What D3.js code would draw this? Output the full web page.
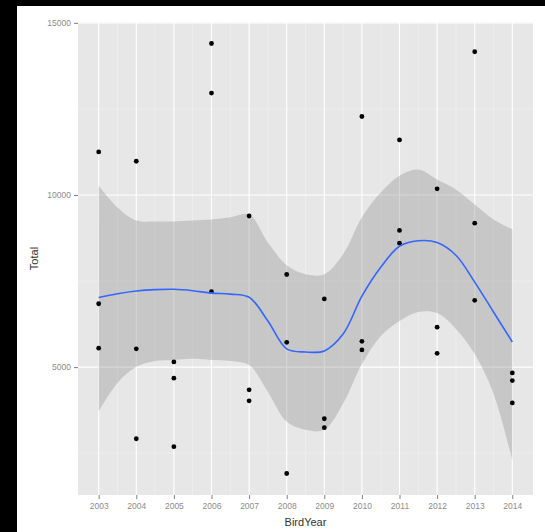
<!DOCTYPE html>
<html>
<head>
<meta charset="utf-8">
<script src="https://cdn.jsdelivr.net/npm/d3@7"></script>
<style>
  html, body { margin: 0; padding: 0; background: #fff; }
  svg { display: block; }
  text { font-family: "Liberation Sans", Arial, sans-serif; }
</style>
</head>
<body>
<svg id="chart" width="545" height="532"></svg>
<script>
// Observed totals per bird year
const years = [
  2003, 2003, 2003,
  2004, 2004, 2004,
  2005, 2005, 2005,
  2006, 2006, 2006,
  2007, 2007, 2007,
  2008, 2008, 2008,
  2009, 2009, 2009,
  2010, 2010, 2010,
  2011, 2011, 2011,
  2012, 2012, 2012,
  2013, 2013, 2013,
  2014, 2014, 2014
];
const totals = [
  11250, 6840, 5550,
  10980, 5530, 2920,
  5150, 4680, 2690,
  14400, 12960, 7190,
  9390, 4340, 4020,
  7690, 5720, 1910,
  6980, 3500, 3240,
  12280, 5750, 5500,
  11600, 8970, 8600,
  10180, 6160, 5400,
  14160, 9180, 6940,
  4830, 4610, 3960
];

// Smoothed trend with its confidence band, sampled every half year
const smoothYears = [
  2003, 2003.5, 2004, 2004.5, 2005, 2005.5, 2006, 2006.5, 2007, 2007.5, 2008, 2008.5,
  2009, 2009.5, 2010, 2010.5, 2011, 2011.5, 2012, 2012.5, 2013, 2013.5, 2014
];
const smoothFit = [
  7020, 7130, 7210, 7250, 7260, 7220, 7150, 7120, 7030, 6340, 5530, 5440,
  5470, 5960, 7060, 7900, 8510, 8670, 8620, 8250, 7470, 6600, 5730
];
const smoothUpper = [
  10270, 9640, 9260, 9230, 9230, 9260, 9290, 9350, 9430, 8620, 7960, 7700,
  7700, 8280, 9350, 10070, 10560, 10740, 10450, 10160, 9720, 9290, 9000
];
const smoothLower = [
  3710, 4540, 5010, 5180, 5210, 5240, 5210, 5180, 5060, 4280, 3420, 3180,
  3180, 3940, 5090, 5900, 6340, 6600, 6570, 6110, 5380, 4230, 2300
];

const yearTicks = [2003, 2004, 2005, 2006, 2007, 2008, 2009, 2010, 2011, 2012, 2013, 2014];
const totalTicks = [5000, 10000, 15000];

const svg = d3.select("#chart");

// Dark edges framing the image
svg.append("rect").attr("x", 0).attr("y", 0).attr("width", 545).attr("height", 6).attr("fill", "#000");
svg.append("rect").attr("x", 0).attr("y", 0).attr("width", 17).attr("height", 532).attr("fill", "#000");

const panel = { left: 78, right: 533, top: 22, bottom: 495 };

const xMin = d3.min(years), xMax = d3.max(years);
const xPad = (xMax - xMin) * 0.05;
const x = d3.scaleLinear()
  .domain([xMin - xPad, xMax + xPad])
  .range([panel.left, panel.right]);

const yMin = d3.min(totals), yMax = d3.max(totals);
const yPad = (yMax - yMin) * 0.05;
const y = d3.scaleLinear()
  .domain([yMin - yPad, yMax + yPad])
  .range([panel.bottom, panel.top]);

// Panel background
svg.append("rect")
  .attr("x", panel.left).attr("y", panel.top)
  .attr("width", panel.right - panel.left)
  .attr("height", panel.bottom - panel.top)
  .attr("fill", "#E7E7E7");

const grid = svg.append("g");

// Minor grid lines halfway between major ones
const minorX = yearTicks.slice(0, -1).map(v => v + 0.5);
const minorY = [2500, 7500, 12500];
grid.selectAll(".mx").data(minorX).enter().append("line")
  .attr("x1", d => x(d)).attr("x2", d => x(d))
  .attr("y1", panel.top).attr("y2", panel.bottom)
  .attr("stroke", "#F2F2F2").attr("stroke-width", 0.6);
grid.selectAll(".my").data(minorY.filter(v => y(v) > panel.top && y(v) < panel.bottom)).enter().append("line")
  .attr("x1", panel.left).attr("x2", panel.right)
  .attr("y1", d => y(d)).attr("y2", d => y(d))
  .attr("stroke", "#F2F2F2").attr("stroke-width", 0.6);

// Major grid lines
grid.selectAll(".gx").data(yearTicks).enter().append("line")
  .attr("x1", d => x(d)).attr("x2", d => x(d))
  .attr("y1", panel.top).attr("y2", panel.bottom)
  .attr("stroke", "#FFFFFF").attr("stroke-width", 1.1);
grid.selectAll(".gy").data(totalTicks.filter(v => y(v) >= panel.top - 0.5)).enter().append("line")
  .attr("x1", panel.left).attr("x2", panel.right)
  .attr("y1", d => y(d)).attr("y2", d => y(d))
  .attr("stroke", "#FFFFFF").attr("stroke-width", 1.1);

// Confidence band
const bandData = smoothYears.map((yr, i) => ({ yr, lo: smoothLower[i], hi: smoothUpper[i], fit: smoothFit[i] }));
const smoothCurve = d3.curveCatmullRom.alpha(0.5);
const band = d3.area()
  .x(d => x(d.yr))
  .y0(d => y(d.lo))
  .y1(d => y(d.hi))
  .curve(smoothCurve);
svg.append("path")
  .datum(bandData)
  .attr("d", band)
  .attr("fill", "#999999")
  .attr("fill-opacity", 0.4);

// Observed points
const pts = years.map((yr, i) => ({ yr, v: totals[i] }));
svg.append("g").selectAll("circle").data(pts).enter().append("circle")
  .attr("cx", d => x(d.yr))
  .attr("cy", d => y(d.v))
  .attr("r", 2.4)
  .attr("fill", "#000");

// Smoothed trend line
const line = d3.line()
  .x(d => x(d.yr))
  .y(d => y(d.fit))
  .curve(smoothCurve);
svg.append("path")
  .datum(bandData)
  .attr("d", line)
  .attr("fill", "none")
  .attr("stroke", "#3366FF")
  .attr("stroke-width", 1.6);

// Axes
const xAxis = d3.axisBottom(x).tickValues(yearTicks).tickFormat(d3.format("d")).tickSize(4).tickPadding(4);
const gx = svg.append("g").attr("transform", `translate(0,${panel.bottom})`).call(xAxis);
gx.select(".domain").remove();
gx.selectAll(".tick line").attr("stroke", "#7F7F7F");
gx.selectAll(".tick text").attr("fill", "#8C8C8C").attr("font-size", 8.5);

const yAxis = d3.axisLeft(y).tickValues(totalTicks).tickFormat(d3.format("d")).tickSize(4).tickPadding(3);
const gy = svg.append("g").attr("transform", `translate(${panel.left},0)`).call(yAxis);
gy.select(".domain").remove();
gy.selectAll(".tick line").attr("stroke", "#7F7F7F");
gy.selectAll(".tick text").attr("fill", "#8C8C8C").attr("font-size", 8.5);

// Axis titles
svg.append("text")
  .attr("x", (panel.left + panel.right) / 2)
  .attr("y", 526)
  .attr("text-anchor", "middle")
  .attr("font-size", 11)
  .attr("fill", "#333")
  .text("BirdYear");

svg.append("text")
  .attr("transform", `translate(38,${(panel.top + panel.bottom) / 2}) rotate(-90)`)
  .attr("text-anchor", "middle")
  .attr("font-size", 11)
  .attr("fill", "#333")
  .text("Total");
</script>
</body>
</html>
